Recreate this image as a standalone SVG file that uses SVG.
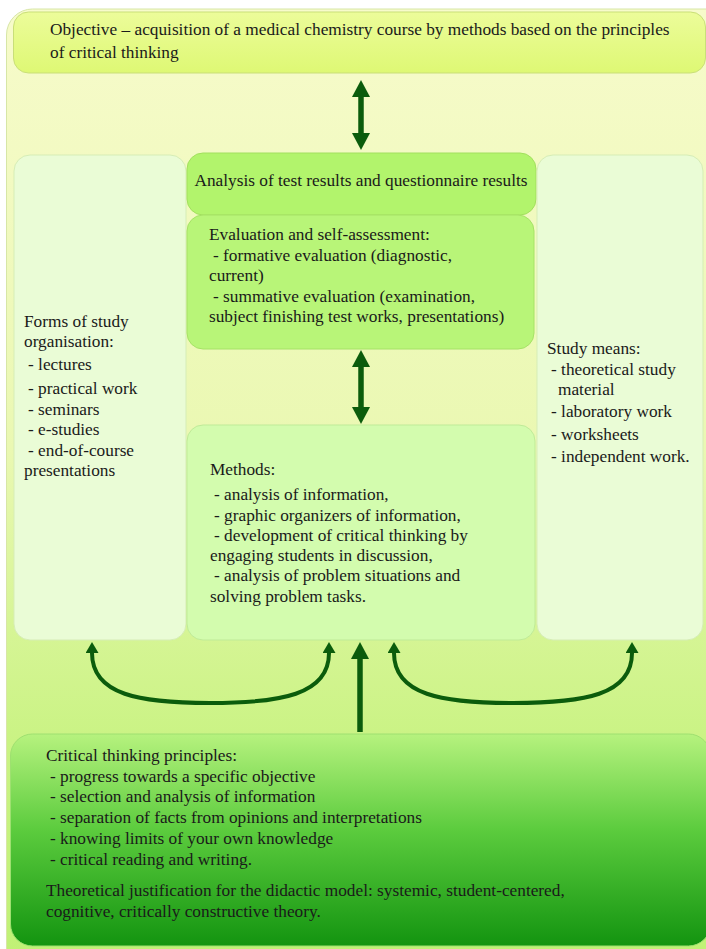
<svg xmlns="http://www.w3.org/2000/svg" width="706" height="949" viewBox="0 0 706 949" font-family="'Liberation Serif', 'Times New Roman', serif">
  <defs>
    <linearGradient id="frameFill" x1="0" y1="0" x2="0" y2="1">
      <stop offset="0" stop-color="#f7fbcb"/>
      <stop offset="0.45" stop-color="#eaf8b2"/>
      <stop offset="0.75" stop-color="#caf384"/>
      <stop offset="1" stop-color="#bff174"/>
    </linearGradient>
    <linearGradient id="goalFill" x1="0" y1="0" x2="0" y2="1">
      <stop offset="0" stop-color="#ecfc9a"/>
      <stop offset="1" stop-color="#def874"/>
    </linearGradient>
    <linearGradient id="baseFill" x1="0" y1="0" x2="0" y2="1">
      <stop offset="0" stop-color="#b6f27e"/>
      <stop offset="0.45" stop-color="#5ccc3e"/>
      <stop offset="1" stop-color="#139410"/>
    </linearGradient>
    <marker id="headBig" markerUnits="userSpaceOnUse" markerWidth="17" markerHeight="18" refX="0" refY="9" orient="auto-start-reverse" viewBox="0 0 17 18">
      <path d="M0,0 L17,9 L0,18 z" fill="#0b5c0c"/>
    </marker>
    <marker id="headSmall" markerUnits="userSpaceOnUse" markerWidth="11" markerHeight="13" refX="0" refY="6.5" orient="auto-start-reverse" viewBox="0 0 11 13">
      <path d="M0,0 L11,6.5 L0,13 z" fill="#0b5c0c"/>
    </marker>
  </defs>
  <style>
    text { font-family: "Liberation Serif", "Times New Roman", serif; font-size: 17.3px; fill: #1a1a1a; }
    .box { stroke-width: 1; }
    .col { fill: #eafcd6; stroke: #d6edb6; }
    .thick { stroke: #0b5c0c; stroke-width: 5.5; fill: none; }
    .thin { stroke: #0b5c0c; stroke-width: 4; fill: none; }
  </style>

  <rect width="706" height="949" fill="#ffffff"/>
  <!-- outer panel -->
  <rect x="6.5" y="9" width="730" height="975" rx="26" fill="url(#frameFill)" stroke="#d7e6a6" stroke-width="1"/>

  <g id="objective">
    <rect class="box" x="13.5" y="12" width="692" height="61" rx="15" fill="url(#goalFill)" stroke="#c9df78"/>
    <text x="50" y="35">Objective – acquisition of a medical chemistry course by methods based on the principles</text>
    <text x="50" y="58">of critical thinking</text>
  </g>

  <g id="forms">
    <rect class="box col" x="14" y="155" width="172" height="485" rx="16"/>
    <text x="24" y="327">Forms of study</text>
    <text x="24" y="347">organisation:</text>
    <text x="28" y="370">- lectures</text>
    <text x="28" y="394">- practical work</text>
    <text x="28" y="415">- seminars</text>
    <text x="28" y="435">- e-studies</text>
    <text x="28" y="456">- end-of-course</text>
    <text x="24" y="476">presentations</text>
  </g>

  <g id="analysis">
    <rect class="box" x="187" y="153" width="349" height="62" rx="16" fill="#b2f46c" stroke="#a2e05e"/>
    <text x="361" y="186" text-anchor="middle">Analysis of test results and questionnaire results</text>
  </g>

  <g id="evaluation">
    <rect class="box" x="187" y="215" width="347" height="134" rx="16" fill="#b8f578" stroke="#a6e266"/>
    <text x="209" y="240">Evaluation and self-assessment:</text>
    <text x="213" y="261">- formative evaluation (diagnostic,</text>
    <text x="209" y="281">current)</text>
    <text x="213" y="302">- summative evaluation (examination,</text>
    <text x="209" y="322">subject finishing test works, presentations)</text>
  </g>

  <g id="methods">
    <rect class="box" x="187" y="425" width="348" height="215" rx="16" fill="#d3fcae" stroke="#bfeb98"/>
    <text x="210" y="475">Methods:</text>
    <text x="214" y="500">- analysis of information,</text>
    <text x="214" y="521">- graphic organizers of information,</text>
    <text x="214" y="541">- development of critical thinking by</text>
    <text x="210" y="561">engaging students in discussion,</text>
    <text x="214" y="581">- analysis of problem situations and</text>
    <text x="210" y="602">solving problem tasks.</text>
  </g>

  <g id="means">
    <rect class="box col" x="537" y="155" width="166" height="485" rx="16"/>
    <text x="547" y="354">Study means:</text>
    <text x="551" y="375">- theoretical study</text>
    <text x="558" y="395">material</text>
    <text x="551" y="417">- laboratory work</text>
    <text x="551" y="440">- worksheets</text>
    <text x="551" y="462">- independent work.</text>
  </g>

  <g id="principles">
    <rect class="box" x="10.5" y="734" width="700" height="212" rx="22" fill="url(#baseFill)" stroke="#9ee070"/>
    <text x="46" y="761">Critical thinking principles:</text>
    <text x="50" y="782">- progress towards a specific objective</text>
    <text x="50" y="802">- selection and analysis of information</text>
    <text x="50" y="823">- separation of facts from opinions and interpretations</text>
    <text x="50" y="844">- knowing limits of your own knowledge</text>
    <text x="50" y="865">- critical reading and writing.</text>
    <text x="46" y="896">Theoretical justification for the didactic model: systemic, student-centered,</text>
    <text x="46" y="917">cognitive, critically constructive theory.</text>
  </g>

  <g id="connectors">
    <line class="thick" x1="361" y1="97" x2="361" y2="133" marker-start="url(#headBig)" marker-end="url(#headBig)"/>
    <line class="thick" x1="361" y1="367" x2="361" y2="407" marker-start="url(#headBig)" marker-end="url(#headBig)"/>
    <line class="thick" x1="360" y1="732" x2="360" y2="659" marker-end="url(#headBig)"/>
    <path class="thin" d="M92,653 C92,695 140,703 210,703 C280,703 329,695 329,653" marker-start="url(#headSmall)" marker-end="url(#headSmall)"/>
    <path class="thin" d="M394,653 C394,695 442,703 513,703 C584,703 632,695 632,653" marker-start="url(#headSmall)" marker-end="url(#headSmall)"/>
  </g>
</svg>
